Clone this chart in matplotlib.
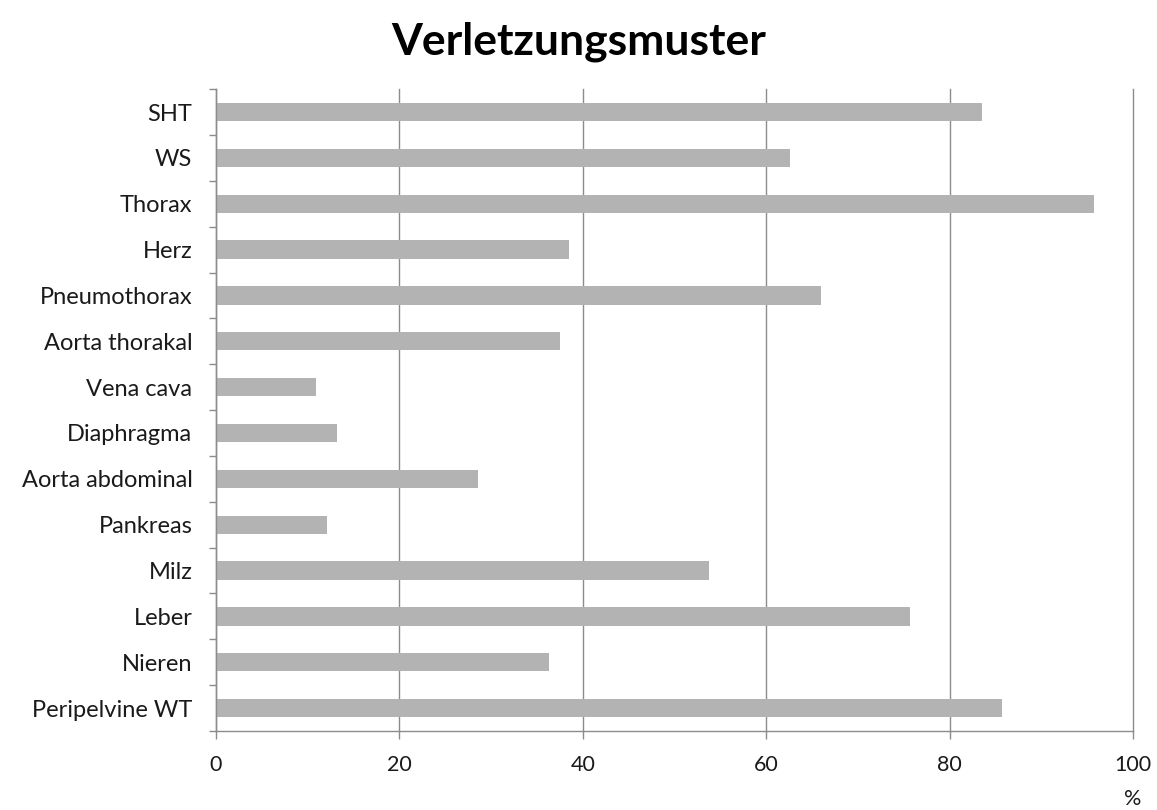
import matplotlib.pyplot as plt
import numpy as np

plt.rcParams['font.family'] = ['Lato', 'DejaVu Sans']

labels = ['SHT', 'WS', 'Thorax', 'Herz', 'Pneumothorax', 'Aorta thorakal',
          'Vena cava', 'Diaphragma', 'Aorta abdominal', 'Pankreas', 'Milz',
          'Leber', 'Nieren', 'Peripelvine WT']
werte = [83.5, 62.6, 95.7, 38.5, 66.0, 37.5, 10.9, 13.2, 28.6, 12.1,
         53.8, 75.7, 36.3, 85.7]
x_ticks = [0, 20, 40, 60, 80, 100]

fig = plt.figure(figsize=(11.57, 8.10), dpi=100)
ax = fig.add_axes([0.1867, 0.0975, 0.7926, 0.7925])

y = np.arange(len(labels))
ax.barh(y, werte, height=0.4, color='#b3b3b3', edgecolor='none', zorder=2)

ax.set_xlim(0, 100)
ax.set_ylim(len(labels) - 0.5, -0.5)
ax.set_xticks(x_ticks)
ax.set_yticks(y)
ax.set_yticklabels(labels)
ax.set_yticks(np.arange(len(labels) + 1) - 0.5, minor=True)

ax.grid(axis='x', color='#8c8c8c', linewidth=1.0, zorder=1)
for line in ax.get_xgridlines():
    line.set_clip_on(False)
for s in ['top', 'right']:
    ax.spines[s].set_visible(False)
for s in ['left', 'bottom']:
    ax.spines[s].set_color('#8c8c8c')
    ax.spines[s].set_linewidth(1.0)

ax.tick_params(axis='y', which='major', length=0, pad=17, labelsize=17,
               labelcolor='#1a1a1a')
ax.tick_params(axis='y', which='minor', length=5, color='#8c8c8c', width=1.0)
ax.tick_params(axis='x', which='major', length=6, color='#8c8c8c', width=1.0,
               pad=11, labelsize=15.5, labelcolor='#1a1a1a')

fig.text(0.5, 0.949, 'Verletzungsmuster', ha='center', va='center',
         fontsize=32, fontweight='bold')
fig.text(0.9793, 0.0136, '%', ha='center', va='center', fontsize=15.5,
         color='#1a1a1a')

fig.savefig('out.png', dpi=100)
